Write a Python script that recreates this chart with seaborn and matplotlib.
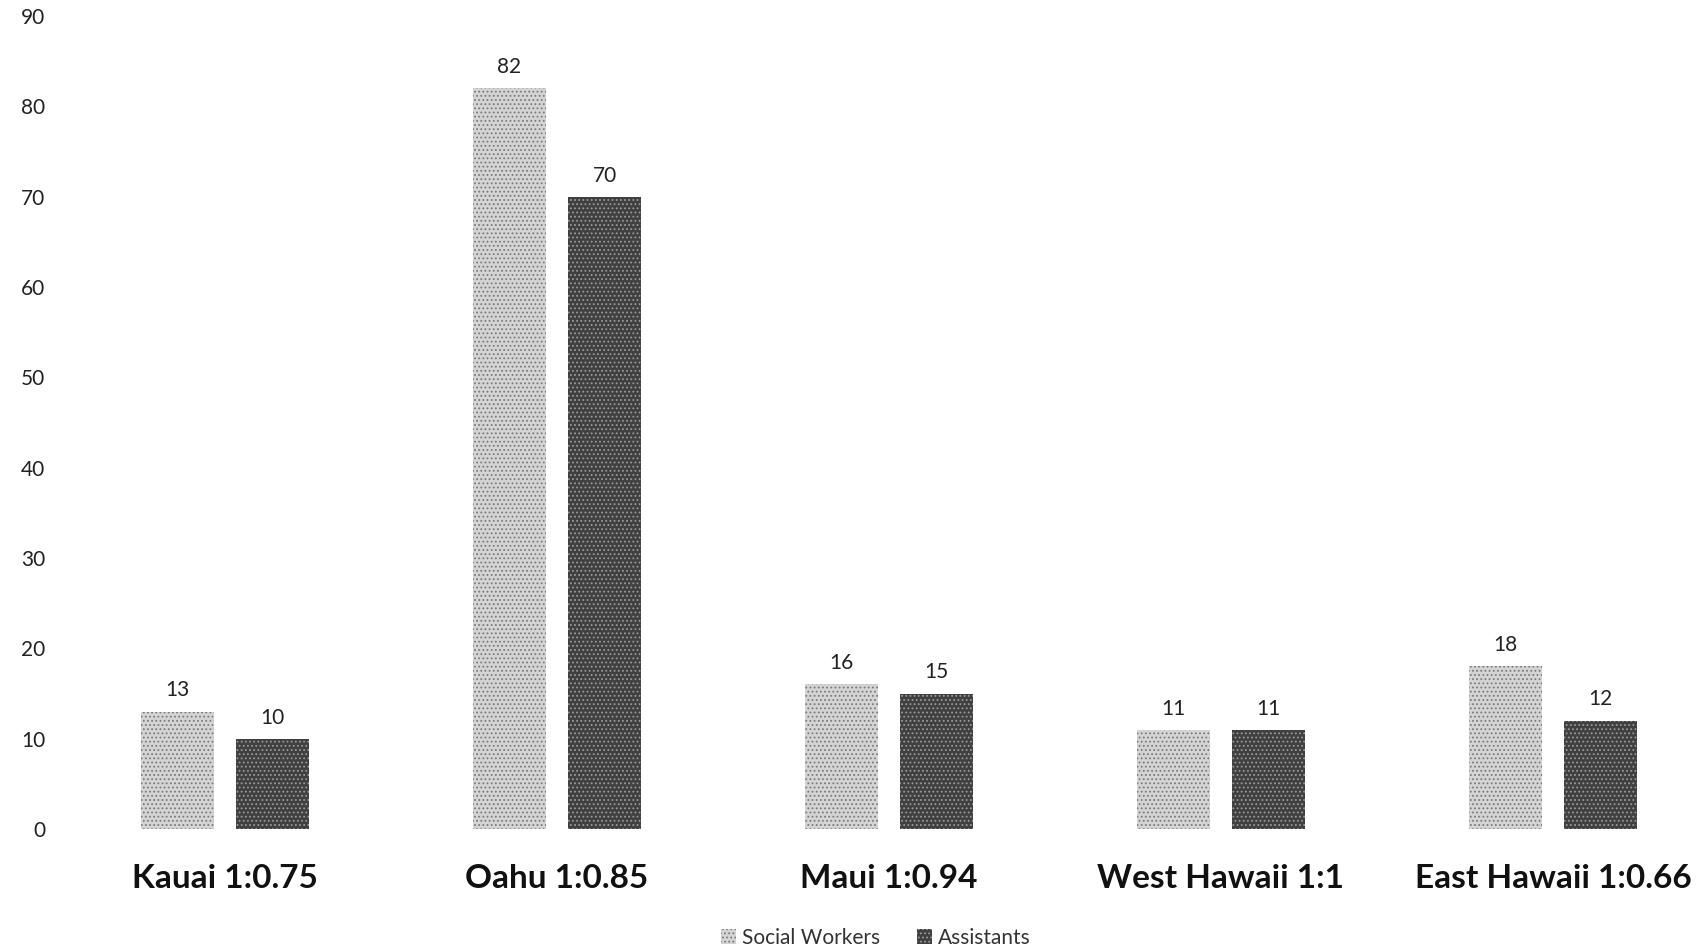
import matplotlib
matplotlib.use("Agg")
import matplotlib.pyplot as plt
import seaborn as sns
import pandas as pd
from matplotlib.patches import Patch

categories = ["Kauai 1:0.75", "Oahu 1:0.85", "Maui 1:0.94", "West Hawaii 1:1", "East Hawaii 1:0.66"]
social_workers = [13, 82, 16, 11, 18]
assistants = [10, 70, 15, 11, 12]
series_names = ["Social Workers", "Assistants"]
y_ticks = [0, 10, 20, 30, 40, 50, 60, 70, 80, 90]

df = pd.DataFrame({
    "Region": categories * 2,
    "Count": social_workers + assistants,
    "Series": [series_names[0]] * len(categories) + [series_names[1]] * len(categories),
})

sns.set_theme(style="white")
plt.rcParams["font.family"] = ["Lato", "DejaVu Sans"]
plt.rcParams["hatch.linewidth"] = 0.8

fig = plt.figure(figsize=(17.06, 9.5), dpi=100)
ax = fig.add_axes([59 / 1706, 121 / 950, 1647 / 1706, 813 / 950])

colors = {"Social Workers": "#d4d4d4", "Assistants": "#404040"}
sns.barplot(data=df, x="Region", y="Count", hue="Series", order=categories,
            hue_order=series_names, palette=colors, width=0.576, gap=0.236,
            ax=ax, legend=False, saturation=1)

hatches = {"Social Workers": "....", "Assistants": "...."}
edgec = {"Social Workers": "#7a7a7a", "Assistants": "#9a9a9a"}
for cont, name in zip(ax.containers, series_names):
    for bar in cont:
        bar.set_hatch(hatches[name])
        bar.set_edgecolor(edgec[name])
        bar.set_linewidth(0)
    ax.bar_label(cont, padding=8, fontsize=15, color="#222222")

ax.set_xlim(-0.5, -0.5 + 1647 / 332)
ax.set_ylim(0, 90)
ax.set_yticks(y_ticks)
ax.set_yticklabels([str(t) for t in y_ticks], fontsize=15, color="#222222")
ax.tick_params(axis="y", length=0, pad=10)
ax.tick_params(axis="x", length=0, pad=25)
for lab in ax.get_xticklabels():
    lab.set_fontsize(24)
    lab.set_fontweight("bold")
    lab.set_color("#111111")
for s in ax.spines.values():
    s.set_visible(False)
ax.set_xlabel("")
ax.set_ylabel("")
ax.grid(False)

handles = [Patch(facecolor=colors[n], edgecolor=edgec[n], hatch=hatches[n], linewidth=0) for n in series_names]
fig.legend(handles, series_names, loc="center", bbox_to_anchor=(876 / 1706, 1 - 938 / 950),
           ncol=2, frameon=False, fontsize=15, handlelength=0.7, handleheight=0.7,
           handletextpad=0.3, columnspacing=1.8, labelcolor="#333333")

fig.savefig("out.png", dpi=100, facecolor="white")
